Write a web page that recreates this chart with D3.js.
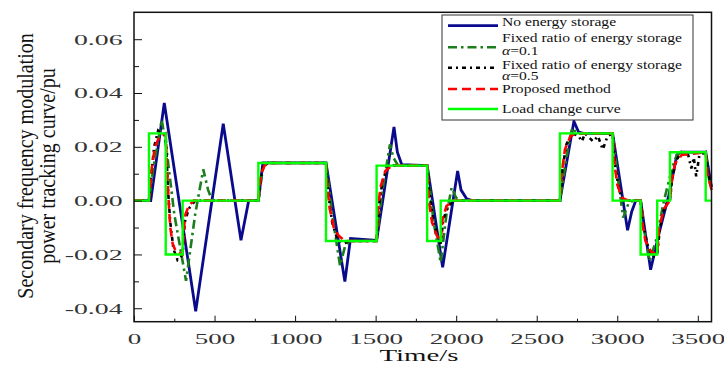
<!DOCTYPE html>
<html>
<head>
<meta charset="utf-8">
<script src="https://cdn.jsdelivr.net/npm/d3@7"></script>
<style>
  body { margin: 0; background: #fff; }
  svg { display: block; font-family: "Liberation Serif", "Times New Roman", serif; }
</style>
</head>
<body>
<svg id="chart" width="724" height="365"></svg>
<script>
// series: [time (s), power (pu)]
const noStorage = [[0,0],[104,0],[188,0.0363],[383,-0.0411],[554,0.0286],[664,-0.0147],[712,0],[772,0],[800,0.014],
  [1192,0.014],[1309,-0.0301],[1344,-0.0141],[1506,-0.0148],[1614,0.0274],[1635,0.018],[1662,0.0134],[1820,0.013],
  [1916,-0.0248],[2009,0.011],[2030,0.004],[2065,0.0007],[2100,0],[2644,0],[2731,0.0295],[2760,0.0255],[2790,0.025],
  [2971,0.025],[3064,-0.011],[3090,-0.004],[3115,0],[3145,0],[3207,-0.0257],[3260,-0.012],[3320,0.002],[3370,0.017],
  [3390,0.018],[3549,0.018],[3585,0.005]];
const fixed01 = [[0,0],[93,0],[120,0.012],[172,0.030],[200,0.02],[250,-0.005],[323,-0.0298],[380,-0.005],[430,0.0116],
  [460,0.004],[485,0],[772,0],[800,0.012],[830,0.014],[1192,0.014],[1230,-0.005],[1279,-0.0242],[1310,-0.017],[1340,-0.015],
  [1506,-0.015],[1540,0.003],[1589,0.0209],[1610,0.016],[1640,0.013],[1820,0.013],[1860,-0.008],[1904,-0.023],[1940,-0.005],
  [1972,0.0048],[2000,0.001],[2030,0],[2644,0],[2690,0.018],[2720,0.027],[2750,0.025],[2971,0.025],[3000,0.01],
  [3037,-0.0063],[3070,-0.001],[3100,0],[3145,0],[3170,-0.012],[3200,-0.0224],[3240,-0.015],[3290,0],[3340,0.012],
  [3370,0.017],[3400,0.018],[3549,0.018],[3570,0.008],[3585,0.004]];
const fixed05 = [[0,0],[93,0],[105,0.008],[125,0.02],[150,0.026],[170,0.025],[197,0.024],[210,0.005],[225,-0.008],
  [245,-0.018],[270,-0.022],[302,-0.02],[315,-0.008],[340,-0.003],[380,0],[772,0],[785,0.008],[805,0.013],[830,0.014],
  [1192,0.014],[1205,0.003],[1230,-0.008],[1260,-0.014],[1300,-0.016],[1340,-0.015],[1506,-0.015],[1520,-0.002],[1545,0.008],
  [1575,0.012],[1610,0.013],[1820,0.013],[1835,0.002],[1860,-0.008],[1890,-0.014],[1904,-0.016],[1920,-0.007],[1950,-0.002],
  [1990,0],[2644,0],[2660,0.012],[2685,0.021],[2720,0.025],[2760,0.024],[2780,0.022],[2800,0.025],[2850,0.022],[2880,0.024],
  [2910,0.019],[2940,0.024],[2971,0.025],[2985,0.014],[3010,0.004],[3040,0],[3145,0],[3160,-0.008],[3185,-0.016],
  [3220,-0.021],[3248,-0.02],[3265,-0.01],[3295,-0.002],[3327,0],[3340,0.008],[3365,0.015],[3400,0.018],[3440,0.017],
  [3460,0.012],[3475,0.016],[3490,0.009],[3510,0.017],[3549,0.018],[3565,0.01],[3585,0.005]];
const proposed = [[0,0],[93,0],[110,0.012],[130,0.02],[160,0.024],[197,0.025],[205,0.012],[215,0],[225,-0.01],[240,-0.016],
  [260,-0.019],[302,-0.02],[310,-0.01],[320,-0.005],[340,-0.002],[370,0],[772,0],[780,0.006],[790,0.01],[810,0.013],
  [840,0.014],[1192,0.014],[1200,0.005],[1215,-0.003],[1240,-0.01],[1270,-0.013],[1310,-0.015],[1506,-0.015],[1515,-0.003],
  [1530,0.005],[1560,0.011],[1600,0.013],[1820,0.013],[1830,0],[1850,-0.008],[1880,-0.013],[1904,-0.015],[1915,-0.007],
  [1940,-0.002],[1980,0],[2644,0],[2655,0.01],[2675,0.019],[2710,0.024],[2750,0.025],[2971,0.025],[2980,0.015],[3000,0.006],
  [3030,0.001],[3070,0],[3145,0],[3155,-0.008],[3175,-0.015],[3210,-0.019],[3248,-0.02],[3260,-0.01],[3290,-0.003],
  [3327,0],[3340,0.008],[3360,0.014],[3400,0.017],[3549,0.018],[3560,0.01],[3585,0.004]];
const loadCurve = [[0,0],[93,0],[93,0.025],[197,0.025],[197,-0.02],[302,-0.02],[302,0],[772,0],[772,0.014],[1192,0.014],
  [1192,-0.015],[1506,-0.015],[1506,0.013],[1820,0.013],[1820,-0.015],[1904,-0.015],[1904,0],[2644,0],[2644,0.025],
  [2971,0.025],[2971,0],[3145,0],[3145,-0.02],[3248,-0.02],[3248,0],[3327,0],[3327,0.018],[3549,0.018],[3549,0],[3585,0]];

const xTicks = [0, 500, 1000, 1500, 2000, 2500, 3000, 3500];
const yTicks = [-0.04, -0.02, 0.00, 0.02, 0.04, 0.06];
const legendNames = ["No energy storage", "Fixed ratio of energy storage|0.1", "Fixed ratio of energy storage|0.5",
  "Proposed method", "Load change curve"];

const svg = d3.select('#chart');
const plotLeft = 134, plotRight = 711.5, plotTop = 12.3, plotBottom = 321.7;

const x = d3.scaleLinear().domain([0, 3585]).range([plotLeft, plotRight]);
const y = d3.scaleLinear().domain([-0.045, 0.07]).range([plotBottom, plotTop]);

const series = [
  { data: noStorage, color: '#0a0a8c', width: 2.8, dash: null },
  { data: fixed01,   color: '#1b7d1b', width: 2.6, dash: '9,4,2.5,4' },
  { data: fixed05,   color: '#000000', width: 2.6, dash: '4,4,2,4' },
  { data: proposed,  color: '#ff0000', width: 2.6, dash: '9,5' },
  { data: loadCurve, color: '#00ff00', width: 2.4, dash: null }
];

const line = d3.line().x(d => x(d[0])).y(d => y(d[1]));

const plot = svg.append('g');
series.forEach(s => {
  plot.append('path')
    .datum(s.data)
    .attr('fill', 'none')
    .attr('stroke', s.color)
    .attr('stroke-width', s.width)
    .attr('stroke-dasharray', s.dash)
    .attr('d', line);
});

// axes, ticks inside the frame
const yAxis = d3.axisLeft(y).tickValues(yTicks).tickSizeInner(-8).tickSizeOuter(0).tickPadding(6.2)
  .tickFormat(d => d.toFixed(2));
const gy = svg.append('g').attr('transform', `translate(${plotLeft},0)`).call(yAxis);
gy.select('.domain').remove();
gy.selectAll('text').attr('font-size', 15).attr('font-family', 'Liberation Serif').attr('fill', '#333')
  .attr('transform', 'scale(1.85,1)');
svg.append('g').attr('transform', `translate(${plotLeft},0)`)
  .call(d3.axisLeft(y).tickValues([-0.03, -0.01, 0.01, 0.03, 0.05]).tickSizeInner(-5).tickSizeOuter(0).tickFormat(''))
  .select('.domain').remove();

const xAxis = d3.axisBottom(x).tickValues(xTicks).tickSizeInner(-6).tickSizeOuter(0).tickPadding(12)
  .tickFormat(d => String(d));
const gx = svg.append('g').attr('transform', `translate(0,${plotBottom})`).call(xAxis);
gx.select('.domain').remove();
gx.selectAll('text').attr('font-size', 15).attr('font-family', 'Liberation Serif').attr('fill', '#333')
  .attr('transform', 'scale(1.8,1)');
svg.append('g').attr('transform', `translate(0,${plotBottom})`)
  .call(d3.axisBottom(x).tickValues([250, 750, 1250, 1750, 2250, 2750, 3250]).tickSizeInner(-3).tickSizeOuter(0).tickFormat(''))
  .select('.domain').remove();

svg.selectAll('.tick line').attr('stroke', '#111');

svg.append('rect')
  .attr('x', plotLeft).attr('y', plotTop)
  .attr('width', plotRight - plotLeft).attr('height', plotBottom - plotTop)
  .attr('fill', 'none').attr('stroke', '#111').attr('stroke-width', 1.5);

// axis titles
svg.append('text')
  .attr('transform', 'translate(419,361) scale(1.65,1)')
  .attr('text-anchor', 'middle').attr('font-size', 17.5).attr('fill', '#111')
  .text('Time/s');

const yTitle = svg.append('text')
  .attr('transform', 'translate(0,166) scale(1.15,1) rotate(-90)')
  .attr('text-anchor', 'middle').attr('font-size', 20).attr('fill', '#111');
yTitle.append('tspan').attr('x', 0).attr('y', 29).text('Secondary frequency modulation');
yTitle.append('tspan').attr('x', 0).attr('y', 48).text('power tracking curve/pu');

// legend
const lg = svg.append('g');
lg.append('rect').attr('x', 442).attr('y', 15).attr('width', 251).attr('height', 105)
  .attr('fill', '#fff').attr('stroke', '#333').attr('stroke-width', 1);
const sampleY = [25.7, 47.3, 67.7, 89, 109];
const textY = [[25.7], [41.7, 55], [69, 79.5], [93.3], [112.7]];
series.forEach((s, i) => {
  lg.append('line')
    .attr('x1', 448).attr('x2', 498)
    .attr('y1', sampleY[i]).attr('y2', sampleY[i])
    .attr('stroke', s.color).attr('stroke-width', s.width)
    .attr('stroke-dasharray', s.dash);
  const parts = legendNames[i].split('|');
  parts.forEach((p, j) => {
    const t = lg.append('text')
      .attr('transform', `translate(502,${textY[i][j]}) scale(1.25,1)`)
      .attr('font-size', 12.5).attr('fill', '#111');
    if (j === 0) {
      t.text(p);
    } else {
      t.append('tspan').attr('font-style', 'italic').text('α');
      t.append('tspan').text('=' + p);
    }
  });
});
</script>
</body>
</html>
